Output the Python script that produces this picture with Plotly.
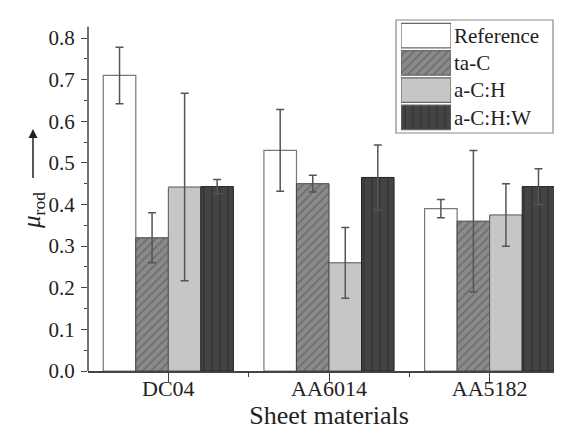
import plotly.graph_objects as go

categories = ["DC04", "AA6014", "AA5182"]
series = ["Reference", "ta-C", "a-C:H", "a-C:H:W"]
values = {
    "Reference": [0.71, 0.53, 0.39],
    "ta-C": [0.32, 0.45, 0.36],
    "a-C:H": [0.442, 0.26, 0.375],
    "a-C:H:W": [0.443, 0.465, 0.443],
}
errors = {
    "Reference": [0.068, 0.098, 0.022],
    "ta-C": [0.06, 0.02, 0.17],
    "a-C:H": [0.225, 0.085, 0.075],
    "a-C:H:W": [0.017, 0.078, 0.043],
}
y_ticks = [0.0, 0.1, 0.2, 0.3, 0.4, 0.5, 0.6, 0.7, 0.8]

styles = {
    "Reference": dict(color="white", line=dict(color="#777777", width=1.2), pattern=dict(shape="")),
    "ta-C": dict(color="#8a8a8a", line=dict(color="#444444", width=1),
                 pattern=dict(shape="/", fgcolor="#4a4a4a", bgcolor="#8a8a8a", size=6, solidity=0.25)),
    "a-C:H": dict(color="#c6c6c6", line=dict(color="#555555", width=1), pattern=dict(shape="")),
    "a-C:H:W": dict(color="#444444", line=dict(color="#222222", width=1),
                    pattern=dict(shape="|", fgcolor="#1e1e1e", bgcolor="#444444", size=8, solidity=0.15)),
}

FONT = "Liberation Serif, Times New Roman, serif"
fig = go.Figure()
xpos = list(range(len(categories)))
for s in series:
    st = styles[s]
    fig.add_trace(go.Bar(
        x=xpos, y=values[s], name=s, showlegend=False,
        marker=dict(color=st["color"], line=st["line"], pattern=st["pattern"]),
        error_y=dict(type="data", array=errors[s], color="#555555", thickness=1.5, width=4),
        xaxis="x", yaxis="y",
    ))
    # legend swatch
    fig.add_trace(go.Bar(
        x=[1], y=[s], orientation="h", showlegend=False, width=0.9,
        marker=dict(color=st["color"], line=dict(color="#666666", width=1.2), pattern=st["pattern"]),
        xaxis="x2", yaxis="y2", hoverinfo="skip",
    ))

H_PLOT = 353
W_PLOT = 482
ARROW_X = (25 - 80) / W_PLOT
fig.update_layout(
    width=562, height=438,
    margin=dict(l=80, r=0, t=10, b=75),
    barmode="group", bargap=0.19, bargroupgap=0,
    plot_bgcolor="white", paper_bgcolor="white",
    font=dict(family=FONT, color="#222222"),
    xaxis=dict(
        range=[-0.5, 2.5], tickvals=xpos, ticktext=categories,
        showline=True, linecolor="#444444", linewidth=1.5,
        ticks="outside", ticklen=9, tickwidth=1.3, tickcolor="#444444",
        minor=dict(tickvals=[0.5, 1.5], ticks="outside", ticklen=4, tickwidth=1.3, tickcolor="#444444"),
        tickfont=dict(size=22), showgrid=False, zeroline=False, ticklabelstandoff=-12,
        title=dict(text="Sheet materials", font=dict(size=26), standoff=6),
    ),
    yaxis=dict(
        range=[0, H_PLOT / 416.25], tickvals=y_ticks, tickformat=".1f",
        showline=False,
        ticks="outside", ticklen=6, tickwidth=1.3, tickcolor="#444444",
        minor=dict(dtick=0.05, ticks="outside", ticklen=3, tickwidth=1.3, tickcolor="#444444"),
        tickfont=dict(size=21), showgrid=False, zeroline=False, ticklabelstandoff=2,
    ),
    xaxis2=dict(domain=[(393 - 80) / W_PLOT, (443 - 80) / W_PLOT], range=[0, 1], anchor="y2",
                visible=False, fixedrange=True),
    yaxis2=dict(domain=[(363 - 123) / H_PLOT, (363 - 14) / H_PLOT], anchor="x2",
                type="category", categoryorder="array", categoryarray=series[::-1],
                range=[-0.5, 3.5], side="right", showline=False, showgrid=False, zeroline=False,
                ticks="", tickfont=dict(size=21), ticklabelstandoff=2),
    shapes=[
        dict(type="line", xref="paper", yref="y", x0=0, x1=0, y0=0, y1=0.827,
             line=dict(color="#444444", width=1.5)),
        dict(type="rect", xref="paper", yref="paper",
             x0=(388 - 80) / W_PLOT, x1=(545 - 80) / W_PLOT,
             y0=(363 - 125) / H_PLOT, y1=(363 - 12) / H_PLOT,
             line=dict(color="#888888", width=1.2)),
    ],
    annotations=[
        dict(text="<i>μ</i><sub>rod</sub>",
             xref="paper", yref="paper",
             x=(25 - 80) / W_PLOT, y=(363 - 203) / H_PLOT, textangle=-90,
             showarrow=False, font=dict(size=25, family=FONT), xanchor="center", yanchor="middle"),
        dict(text=" ", xref="x domain", yref="y domain", axref="x domain", ayref="y domain",
             x=ARROW_X, y=(363 - 121) / H_PLOT, ax=ARROW_X, ay=(363 - 171) / H_PLOT,
             font=dict(size=1),
             showarrow=True, arrowhead=2, arrowsize=1.2, arrowwidth=1.5,
             arrowcolor="#222222", standoff=0, startstandoff=0, borderpad=0),
    ],
)

fig.write_html("out.html")
